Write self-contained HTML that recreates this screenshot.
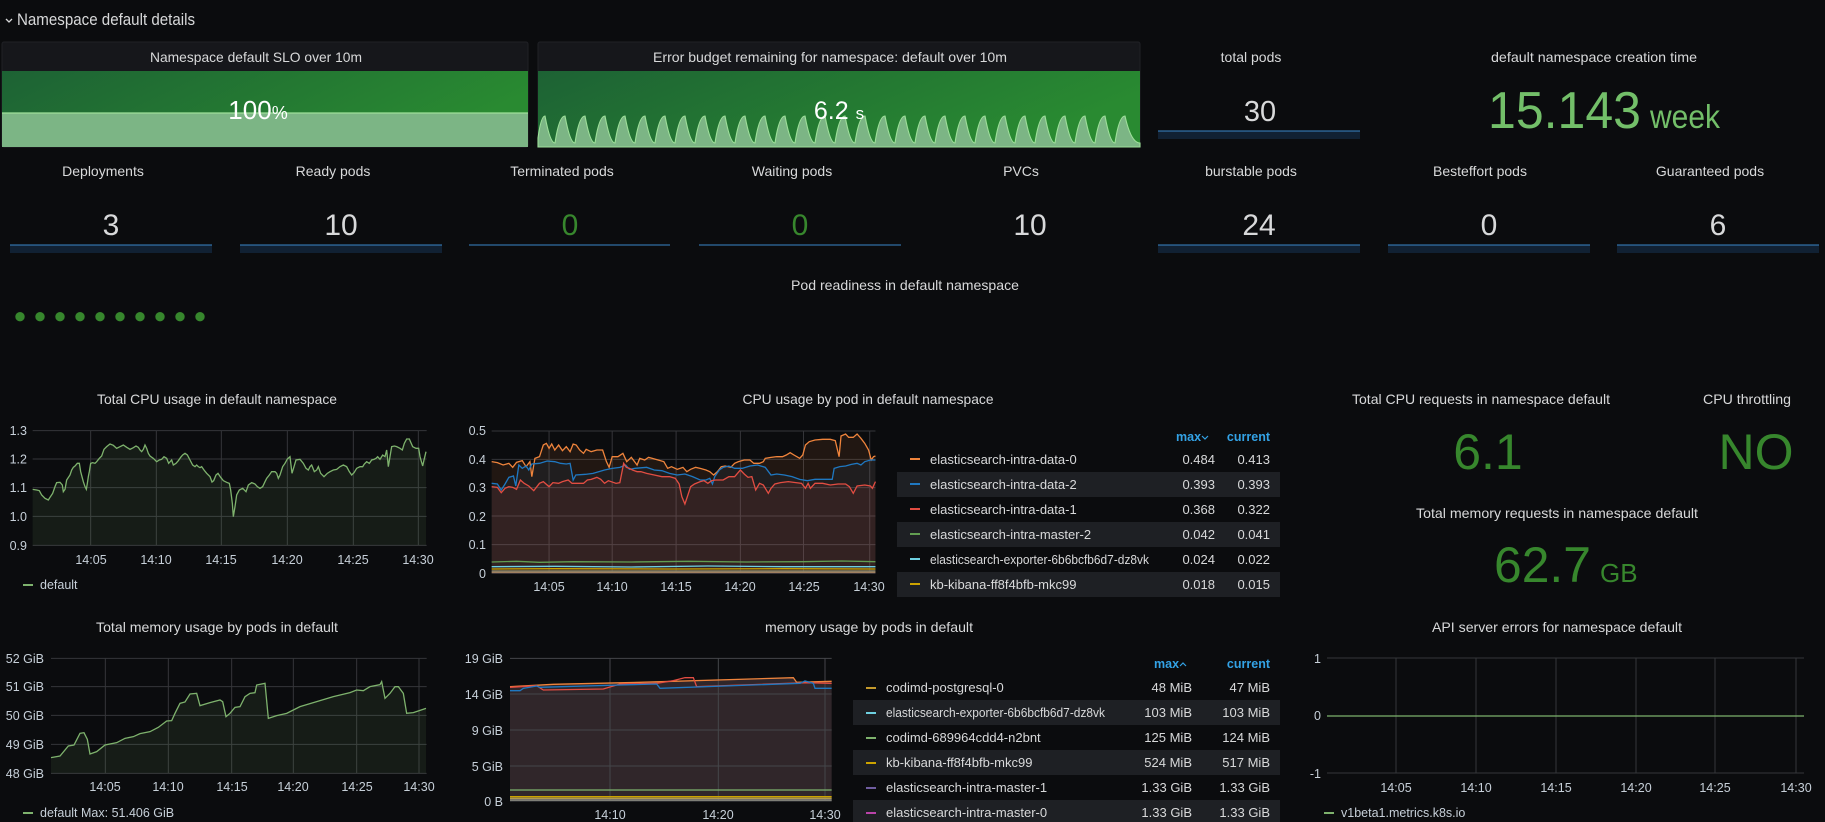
<!DOCTYPE html>
<html><head><meta charset="utf-8"><style>
html,body{margin:0;padding:0;background:#0b0c0e;}
svg{display:block;}
text{font-family:"Liberation Sans",sans-serif;}
</style></head><body>
<svg width="1825" height="822" viewBox="0 0 1825 822" xmlns="http://www.w3.org/2000/svg">
<defs>
<linearGradient id="gg" x1="0" y1="0" x2="1" y2="0.3"><stop offset="0" stop-color="#1d6234"/><stop offset="1" stop-color="#298a31"/></linearGradient>
</defs>
<rect width="1825" height="822" fill="#0b0c0e"/>
<!-- header -->
<polyline points="6,19 9,22 12,19" fill="none" stroke="#d8d9da" stroke-width="1.3"/>
<text x="17" y="25" font-size="16.5" fill="#d8d9da" textLength="178" lengthAdjust="spacingAndGlyphs">Namespace default details</text>

<!-- panel 1 -->
<rect x="2" y="42" width="526" height="105" rx="2" fill="#16171b" stroke="#202226"/>
<text x="256" y="62" font-size="14" fill="#d8d9da" text-anchor="middle" textLength="212" lengthAdjust="spacingAndGlyphs">Namespace default SLO over 10m</text>
<rect x="2" y="71" width="526" height="76" fill="url(#gg)"/>
<rect x="2" y="113" width="526" height="34" fill="#7cb585"/>
<line x1="2" y1="113" x2="528" y2="113" stroke="#9ee09a" stroke-width="1.2"/>
<text x="258" y="119" font-size="26" fill="#fff" text-anchor="middle">100<tspan font-size="18">%</tspan></text>

<!-- panel 2 -->
<rect x="538" y="42" width="602" height="105" rx="2" fill="#16171b" stroke="#202226"/>
<text x="830" y="62" font-size="14" fill="#d8d9da" text-anchor="middle" textLength="354" lengthAdjust="spacingAndGlyphs">Error budget remaining for namespace: default over 10m</text>
<rect x="538" y="71" width="602" height="76" fill="url(#gg)"/>
<path id="saw" fill="#7cb585" stroke="#9ee09a" stroke-width="1.1" d="M538,147 L538,138 Q541,116 545,116 Q550,143 555,143 Q559,116 565,116 Q570,143 575,143 Q579,116 585,116 Q590,143 595,143 Q599,116 605,116 Q610,143 615,143 Q619,116 625,116 Q630,143 635,143 Q639,116 645,116 Q650,143 655,143 Q659,116 665,116 Q670,143 675,143 Q679,116 685,116 Q690,143 695,143 Q699,116 705,116 Q710,143 715,143 Q719,116 725,116 Q730,143 735,143 Q739,116 745,116 Q750,143 755,143 Q759,116 765,116 Q770,143 775,143 Q779,116 785,116 Q790,143 795,143 Q799,116 805,116 Q810,143 815,143 Q819,116 825,116 Q830,143 835,143 Q839,116 845,116 Q850,143 855,143 Q859,116 865,116 Q870,143 875,143 Q879,116 885,116 Q890,143 895,143 Q899,116 905,116 Q910,143 915,143 Q919,116 925,116 Q930,143 935,143 Q939,116 945,116 Q950,143 955,143 Q959,116 965,116 Q970,143 975,143 Q979,116 985,116 Q990,143 995,143 Q999,116 1005,116 Q1010,143 1015,143 Q1019,116 1025,116 Q1030,143 1035,143 Q1039,116 1045,116 Q1050,143 1055,143 Q1059,116 1065,116 Q1070,143 1075,143 Q1079,116 1085,116 Q1090,143 1095,143 Q1099,116 1105,116 Q1110,143 1115,143 Q1119,116 1125,116 Q1131,143 1140,143 L1140,147 Z"/>
<text x="839" y="119" font-size="25" fill="#fff" text-anchor="middle">6.2 <tspan font-size="17">s</tspan></text>

<!-- total pods -->
<text x="1251" y="62" font-size="14" fill="#d8d9da" text-anchor="middle">total pods</text>
<text x="1260" y="121" font-size="29" fill="#d8d9da" text-anchor="middle">30</text>
<rect x="1158" y="131" width="202" height="8" fill="#112133"/><line x1="1158" y1="131" x2="1360" y2="131" stroke="#3a86c8"/>

<!-- creation time -->
<text x="1594" y="62" font-size="14" fill="#d8d9da" text-anchor="middle" textLength="206" lengthAdjust="spacingAndGlyphs">default namespace creation time</text>
<text x="1488" y="128" font-size="52" fill="#73bf69" textLength="153" lengthAdjust="spacingAndGlyphs">15.143</text>
<text x="1650" y="128" font-size="33" fill="#73bf69" textLength="70" lengthAdjust="spacingAndGlyphs">week</text>

<!-- row 2 stats -->
<g font-size="14" fill="#d8d9da" text-anchor="middle">
<text x="103" y="176">Deployments</text>
<text x="333" y="176">Ready pods</text>
<text x="562" y="176">Terminated pods</text>
<text x="792" y="176">Waiting pods</text>
<text x="1021" y="176">PVCs</text>
<text x="1251" y="176">burstable pods</text>
<text x="1480" y="176">Besteffort pods</text>
<text x="1710" y="176">Guaranteed pods</text>
</g>
<g font-size="30" text-anchor="middle" fill="#d8d9da">
<text x="111" y="235">3</text>
<text x="341" y="235">10</text>
<text x="570" y="235" fill="#37872d">0</text>
<text x="800" y="235" fill="#37872d">0</text>
<text x="1030" y="235">10</text>
<text x="1259" y="235">24</text>
<text x="1489" y="235">0</text>
<text x="1718" y="235">6</text>
</g>
<g fill="#112133">
<rect x="10" y="245" width="202" height="8"/><rect x="240" y="245" width="202" height="8"/>
<rect x="1158" y="245" width="202" height="8"/><rect x="1388" y="245" width="202" height="8"/><rect x="1617" y="245" width="202" height="8"/>
</g>
<g stroke="#3a86c8" stroke-width="1">
<line x1="10" y1="245" x2="212" y2="245"/><line x1="240" y1="245" x2="442" y2="245"/>
<line x1="469" y1="245" x2="670" y2="245"/><line x1="699" y1="245" x2="901" y2="245"/>
<line x1="1158" y1="245" x2="1360" y2="245"/><line x1="1388" y1="245" x2="1590" y2="245"/><line x1="1617" y1="245" x2="1819" y2="245"/>
</g>

<!-- pod readiness -->
<text x="905" y="290" font-size="14" fill="#d8d9da" text-anchor="middle" textLength="228" lengthAdjust="spacingAndGlyphs">Pod readiness in default namespace</text>
<g fill="#37872d">
<circle cx="20" cy="316.7" r="4.7"/><circle cx="40" cy="316.7" r="4.7"/><circle cx="60" cy="316.7" r="4.7"/><circle cx="80" cy="316.7" r="4.7"/><circle cx="100" cy="316.7" r="4.7"/><circle cx="120" cy="316.7" r="4.7"/><circle cx="140" cy="316.7" r="4.7"/><circle cx="160" cy="316.7" r="4.7"/><circle cx="180" cy="316.7" r="4.7"/><circle cx="200" cy="316.7" r="4.7"/>
</g>

<!-- Total CPU usage -->
<text x="217" y="404" font-size="14" fill="#d8d9da" text-anchor="middle" textLength="240" lengthAdjust="spacingAndGlyphs">Total CPU usage in default namespace</text>
<g transform="translate(0,290) scale(0.33333)">
<g stroke="#35363a" stroke-width="1" vector-effect="non-scaling-stroke">
<line x1="98" y1="422" x2="1280" y2="422" vector-effect="non-scaling-stroke"/><line x1="98" y1="507" x2="1280" y2="507" vector-effect="non-scaling-stroke"/><line x1="98" y1="593" x2="1280" y2="593" vector-effect="non-scaling-stroke"/><line x1="98" y1="679" x2="1280" y2="679" vector-effect="non-scaling-stroke"/><line x1="98" y1="766" x2="1280" y2="766" vector-effect="non-scaling-stroke"/>
<line x1="272" y1="422" x2="272" y2="766" vector-effect="non-scaling-stroke"/><line x1="469" y1="422" x2="469" y2="766" vector-effect="non-scaling-stroke"/><line x1="664" y1="422" x2="664" y2="766" vector-effect="non-scaling-stroke"/><line x1="862" y1="422" x2="862" y2="766" vector-effect="non-scaling-stroke"/><line x1="1060" y1="422" x2="1060" y2="766" vector-effect="non-scaling-stroke"/><line x1="1255" y1="422" x2="1255" y2="766" vector-effect="non-scaling-stroke"/>
</g>
<polyline id="cpu" fill="rgba(126,178,109,0.1)" stroke="none" points="98,766 98,598 110,600 118,602 125,615 135,625 145,630 150,622 158,610 165,590 170,578 180,577 187,585 190,605 195,598 200,570 210,555 215,540 220,532 225,528 232,520 238,520 242,545 246,560 250,575 255,590 259,598 262,580 265,560 268,545 272,520 278,518 285,520 290,515 298,505 305,498 312,478 320,470 330,462 340,466 350,475 360,470 370,465 380,472 390,478 400,473 408,468 415,472 420,480 425,485 430,478 435,465 440,475 445,490 450,498 460,505 470,515 478,510 485,508 492,500 500,505 506,520 515,510 520,525 528,520 535,512 542,502 548,495 555,490 562,495 570,510 578,525 585,530 590,525 595,530 600,533 605,530 612,540 620,550 630,560 636,576 641,572 648,555 654,550 662,562 670,572 680,577 688,580 692,600 697,640 700,680 705,650 710,615 718,600 728,595 738,605 745,585 755,578 765,582 772,590 780,595 788,590 795,575 800,565 808,555 815,545 825,545 830,550 835,565 840,555 848,530 855,520 862,507 870,500 876,550 882,530 888,510 900,508 910,520 918,535 925,540 930,530 935,525 943,545 950,540 955,530 962,550 972,560 982,550 990,545 1000,540 1010,538 1020,530 1030,525 1040,530 1048,545 1055,555 1062,548 1070,535 1080,530 1088,530 1093,522 1100,515 1108,520 1115,510 1122,508 1128,505 1133,500 1140,508 1148,495 1155,500 1160,480 1165,530 1170,500 1175,470 1183,468 1190,470 1200,475 1207,480 1213,460 1220,447 1228,447 1238,470 1248,475 1256,475 1260,500 1268,528 1272,510 1278,485 1278,766"/>
<polyline fill="none" stroke="#7eb26d" stroke-width="1.3" vector-effect="non-scaling-stroke" points="98,598 110,600 118,602 125,615 135,625 145,630 150,622 158,610 165,590 170,578 180,577 187,585 190,605 195,598 200,570 210,555 215,540 220,532 225,528 232,520 238,520 242,545 246,560 250,575 255,590 259,598 262,580 265,560 268,545 272,520 278,518 285,520 290,515 298,505 305,498 312,478 320,470 330,462 340,466 350,475 360,470 370,465 380,472 390,478 400,473 408,468 415,472 420,480 425,485 430,478 435,465 440,475 445,490 450,498 460,505 470,515 478,510 485,508 492,500 500,505 506,520 515,510 520,525 528,520 535,512 542,502 548,495 555,490 562,495 570,510 578,525 585,530 590,525 595,530 600,533 605,530 612,540 620,550 630,560 636,576 641,572 648,555 654,550 662,562 670,572 680,577 688,580 692,600 697,640 700,680 705,650 710,615 718,600 728,595 738,605 745,585 755,578 765,582 772,590 780,595 788,590 795,575 800,565 808,555 815,545 825,545 830,550 835,565 840,555 848,530 855,520 862,507 870,500 876,550 882,530 888,510 900,508 910,520 918,535 925,540 930,530 935,525 943,545 950,540 955,530 962,550 972,560 982,550 990,545 1000,540 1010,538 1020,530 1030,525 1040,530 1048,545 1055,555 1062,548 1070,535 1080,530 1088,530 1093,522 1100,515 1108,520 1115,510 1122,508 1128,505 1133,500 1140,508 1148,495 1155,500 1160,480 1165,530 1170,500 1175,470 1183,468 1190,470 1200,475 1207,480 1213,460 1220,447 1228,447 1238,470 1248,475 1256,475 1260,500 1268,528 1272,510 1278,485"/>
</g>
<g font-size="12.5" fill="#c7d0d9">
<g text-anchor="end"><text x="27" y="435">1.3</text><text x="27" y="463.5">1.2</text><text x="27" y="492">1.1</text><text x="27" y="521">1.0</text><text x="27" y="550">0.9</text></g>
<g text-anchor="middle"><text x="91" y="564">14:05</text><text x="156" y="564">14:10</text><text x="221" y="564">14:15</text><text x="287" y="564">14:20</text><text x="353" y="564">14:25</text><text x="418" y="564">14:30</text></g>
</g>
<line x1="23" y1="585" x2="33" y2="585" stroke="#7eb26d" stroke-width="2"/>
<text x="40" y="589" font-size="12.5" fill="#c7d0d9">default</text>

<!-- CPU usage by pod -->
<text x="868" y="404" font-size="14" fill="#d8d9da" text-anchor="middle" textLength="251" lengthAdjust="spacingAndGlyphs">CPU usage by pod in default namespace</text>
<g transform="translate(440,380) scale(0.38265,0.33333)">
<g stroke="#35363a">
<line x1="135" y1="153" x2="1138" y2="153" vector-effect="non-scaling-stroke"/><line x1="135" y1="238" x2="1138" y2="238" vector-effect="non-scaling-stroke"/><line x1="135" y1="323" x2="1138" y2="323" vector-effect="non-scaling-stroke"/><line x1="135" y1="408" x2="1138" y2="408" vector-effect="non-scaling-stroke"/><line x1="135" y1="494" x2="1138" y2="494" vector-effect="non-scaling-stroke"/><line x1="135" y1="580" x2="1138" y2="580" vector-effect="non-scaling-stroke"/>
<line x1="285" y1="153" x2="285" y2="580" vector-effect="non-scaling-stroke"/><line x1="450" y1="153" x2="450" y2="580" vector-effect="non-scaling-stroke"/><line x1="617" y1="153" x2="617" y2="580" vector-effect="non-scaling-stroke"/><line x1="785" y1="153" x2="785" y2="580" vector-effect="non-scaling-stroke"/><line x1="950" y1="153" x2="950" y2="580" vector-effect="non-scaling-stroke"/><line x1="1123" y1="153" x2="1123" y2="580" vector-effect="non-scaling-stroke"/>
</g>
<polygon fill="rgba(239,132,60,0.1)" points="135,580 135,245 150,248 165,255 180,250 190,262 200,247 215,242 225,260 235,245 240,290 248,235 260,230 270,195 278,190 285,205 292,192 300,210 310,195 320,212 330,200 340,215 348,192 356,195 365,210 375,220 382,208 395,215 410,210 425,210 435,245 442,262 450,230 465,230 478,220 488,245 500,232 515,255 522,235 535,240 545,232 555,235 570,240 585,245 595,265 605,260 620,268 635,262 645,275 655,268 668,262 680,265 695,270 705,275 715,285 725,275 735,260 745,258 760,262 770,250 780,245 795,240 810,240 820,250 835,250 845,245 850,235 865,232 880,230 895,230 905,225 915,218 925,225 940,235 948,225 955,195 965,185 980,180 1000,178 1020,178 1033,182 1043,230 1048,168 1060,162 1068,172 1080,172 1090,162 1100,175 1110,190 1120,210 1127,240 1133,230 1138,228 1138,580"/>
<polygon fill="rgba(31,120,193,0.08)" points="135,580 135,310 150,312 160,330 170,312 180,292 192,288 198,318 206,255 215,265 225,258 232,270 240,252 260,250 280,243 300,245 315,250 330,252 340,250 348,300 355,285 380,283 400,280 430,270 450,265 470,262 485,255 495,268 510,265 540,262 560,270 580,272 600,280 620,285 640,282 660,290 680,300 695,300 705,295 712,312 718,290 730,270 740,262 755,258 770,265 790,265 810,258 830,255 850,262 865,285 880,282 900,285 920,290 940,298 960,302 980,298 1000,298 1025,298 1030,265 1045,260 1060,258 1075,253 1090,250 1100,255 1110,245 1125,240 1138,240 1138,580"/>
<polygon fill="rgba(226,77,66,0.1)" points="135,580 135,320 150,322 160,338 170,325 180,320 190,322 200,328 210,300 220,310 232,318 245,332 260,310 270,305 285,320 295,308 310,310 320,305 335,300 345,310 360,310 375,310 385,300 395,298 410,292 420,298 430,310 440,302 460,310 470,308 480,250 487,262 495,265 503,270 515,275 525,275 540,280 560,285 580,290 600,290 615,295 625,312 632,350 640,372 647,348 655,320 665,312 680,305 690,302 700,310 710,302 720,300 740,300 755,290 770,290 785,270 795,282 805,292 815,290 825,330 835,310 845,315 858,340 865,325 875,312 890,308 910,305 930,308 945,310 955,325 962,310 968,325 980,310 1000,310 1020,315 1040,312 1060,312 1070,320 1080,340 1090,318 1110,315 1125,318 1130,325 1138,305 1138,580"/>
<g fill="none" stroke-width="1.3">
<polyline stroke="#ef843c" vector-effect="non-scaling-stroke" points="135,245 150,248 165,255 180,250 190,262 200,247 215,242 225,260 235,245 240,290 248,235 260,230 270,195 278,190 285,205 292,192 300,210 310,195 320,212 330,200 340,215 348,192 356,195 365,210 375,220 382,208 395,215 410,210 425,210 435,245 442,262 450,230 465,230 478,220 488,245 500,232 515,255 522,235 535,240 545,232 555,235 570,240 585,245 595,265 605,260 620,268 635,262 645,275 655,268 668,262 680,265 695,270 705,275 715,285 725,275 735,260 745,258 760,262 770,250 780,245 795,240 810,240 820,250 835,250 845,245 850,235 865,232 880,230 895,230 905,225 915,218 925,225 940,235 948,225 955,195 965,185 980,180 1000,178 1020,178 1033,182 1043,230 1048,168 1060,162 1068,172 1080,172 1090,162 1100,175 1110,190 1120,210 1127,240 1133,230 1138,228"/>
<polyline stroke="#1f78c1" vector-effect="non-scaling-stroke" points="135,310 150,312 160,330 170,312 180,292 192,288 198,318 206,255 215,265 225,258 232,270 240,252 260,250 280,243 300,245 315,250 330,252 340,250 348,300 355,285 380,283 400,280 430,270 450,265 470,262 485,255 495,268 510,265 540,262 560,270 580,272 600,280 620,285 640,282 660,290 680,300 695,300 705,295 712,312 718,290 730,270 740,262 755,258 770,265 790,265 810,258 830,255 850,262 865,285 880,282 900,285 920,290 940,298 960,302 980,298 1000,298 1025,298 1030,265 1045,260 1060,258 1075,253 1090,250 1100,255 1110,245 1125,240 1138,240"/>
<polyline stroke="#e24d42" vector-effect="non-scaling-stroke" points="135,320 150,322 160,338 170,325 180,320 190,322 200,328 210,300 220,310 232,318 245,332 260,310 270,305 285,320 295,308 310,310 320,305 335,300 345,310 360,310 375,310 385,300 395,298 410,292 420,298 430,310 440,302 460,310 470,308 480,250 487,262 495,265 503,270 515,275 525,275 540,280 560,285 580,290 600,290 615,295 625,312 632,350 640,372 647,348 655,320 665,312 680,305 690,302 700,310 710,302 720,300 740,300 755,290 770,290 785,270 795,282 805,292 815,290 825,330 835,310 845,315 858,340 865,325 875,312 890,308 910,305 930,308 945,310 955,325 962,310 968,325 980,310 1000,310 1020,315 1040,312 1060,312 1070,320 1080,340 1090,318 1110,315 1125,318 1130,325 1138,305"/>
<polyline stroke="#629e51" vector-effect="non-scaling-stroke" points="135,546 200,544 260,547 350,545 500,546 650,544 800,546 950,545 1050,543 1138,545"/>
<polyline stroke="#6ed0e0" vector-effect="non-scaling-stroke" points="135,560 300,559 500,561 700,558 900,560 1138,560"/>
<polyline stroke="#cca300" vector-effect="non-scaling-stroke" points="135,567 300,566 600,567 900,566 1138,567"/>
<polyline stroke="#8e8e6e" vector-effect="non-scaling-stroke" points="135,573 1138,573"/>
<polyline stroke="#a08060" vector-effect="non-scaling-stroke" points="135,577 1138,577"/>
</g>
</g>
<g font-size="12.5" fill="#c7d0d9">
<g text-anchor="end"><text x="486" y="435">0.5</text><text x="486" y="464">0.4</text><text x="486" y="492">0.3</text><text x="486" y="521">0.2</text><text x="486" y="549">0.1</text><text x="486" y="578">0</text></g>
<g text-anchor="middle"><text x="549" y="591">14:05</text><text x="612" y="591">14:10</text><text x="676" y="591">14:15</text><text x="740" y="591">14:20</text><text x="804" y="591">14:25</text><text x="869" y="591">14:30</text></g>
</g>
<!-- CPU table -->
<g fill="#1e2024"><rect x="897" y="472" width="383" height="25"/><rect x="897" y="522" width="383" height="25"/><rect x="897" y="572" width="383" height="25"/></g>
<g font-size="12.5" font-weight="bold" fill="#33a2e5"><text x="1176" y="441">max</text><text x="1270" y="441" text-anchor="end">current</text></g>
<polyline points="1202,436 1205,439 1208,436" fill="none" stroke="#33a2e5" stroke-width="1.2"/>
<g stroke-width="2">
<line x1="910" y1="459" x2="920" y2="459" stroke="#ef843c"/><line x1="910" y1="484" x2="920" y2="484" stroke="#1f78c1"/><line x1="910" y1="509" x2="920" y2="509" stroke="#e24d42"/><line x1="910" y1="534" x2="920" y2="534" stroke="#629e51"/><line x1="910" y1="559" x2="920" y2="559" stroke="#6ed0e0"/><line x1="910" y1="584" x2="920" y2="584" stroke="#cca300"/>
</g>
<g font-size="13" fill="#d8d9da">
<text x="930" y="464">elasticsearch-intra-data-0</text><text x="930" y="489">elasticsearch-intra-data-2</text><text x="930" y="514">elasticsearch-intra-data-1</text><text x="930" y="539">elasticsearch-intra-master-2</text><text x="930" y="564" textLength="219" lengthAdjust="spacingAndGlyphs">elasticsearch-exporter-6b6bcfb6d7-dz8vk</text><text x="930" y="589">kb-kibana-ff8f4bfb-mkc99</text>
<g text-anchor="end">
<text x="1215" y="464">0.484</text><text x="1215" y="489">0.393</text><text x="1215" y="514">0.368</text><text x="1215" y="539">0.042</text><text x="1215" y="564">0.024</text><text x="1215" y="589">0.018</text>
<text x="1270" y="464">0.413</text><text x="1270" y="489">0.393</text><text x="1270" y="514">0.322</text><text x="1270" y="539">0.041</text><text x="1270" y="564">0.022</text><text x="1270" y="589">0.015</text>
</g></g>

<!-- right stats -->
<g font-size="14" fill="#d8d9da" text-anchor="middle">
<text x="1481" y="404" textLength="258" lengthAdjust="spacingAndGlyphs">Total CPU requests in namespace default</text>
<text x="1747" y="404" textLength="88" lengthAdjust="spacingAndGlyphs">CPU throttling</text>
<text x="1557" y="518" textLength="282" lengthAdjust="spacingAndGlyphs">Total memory requests in namespace default</text>
<text x="1557" y="632" textLength="250" lengthAdjust="spacingAndGlyphs">API server errors for namespace default</text>
</g>
<g fill="#37872d" text-anchor="middle">
<text x="1488" y="469" font-size="50">6.1</text>
<text x="1756" y="469" font-size="50">NO</text>
</g>
<text x="1494" y="582" font-size="50" fill="#37872d" textLength="97" lengthAdjust="spacingAndGlyphs">62.7</text>
<text x="1600" y="582" font-size="26" fill="#37872d">GB</text>

<!-- Total memory usage -->
<text x="217" y="632" font-size="14" fill="#d8d9da" text-anchor="middle" textLength="242" lengthAdjust="spacingAndGlyphs">Total memory usage by pods in default</text>
<g transform="translate(0,550) scale(0.33333)">
<g stroke="#35363a">
<line x1="153" y1="325" x2="1280" y2="325" vector-effect="non-scaling-stroke"/><line x1="153" y1="410" x2="1280" y2="410" vector-effect="non-scaling-stroke"/><line x1="153" y1="496" x2="1280" y2="496" vector-effect="non-scaling-stroke"/><line x1="153" y1="583" x2="1280" y2="583" vector-effect="non-scaling-stroke"/><line x1="153" y1="670" x2="1280" y2="670" vector-effect="non-scaling-stroke"/>
<line x1="316" y1="325" x2="316" y2="670" vector-effect="non-scaling-stroke"/><line x1="505" y1="325" x2="505" y2="670" vector-effect="non-scaling-stroke"/><line x1="695" y1="325" x2="695" y2="670" vector-effect="non-scaling-stroke"/><line x1="880" y1="325" x2="880" y2="670" vector-effect="non-scaling-stroke"/><line x1="1070" y1="325" x2="1070" y2="670" vector-effect="non-scaling-stroke"/><line x1="1257" y1="325" x2="1257" y2="670" vector-effect="non-scaling-stroke"/>
</g>
<polygon fill="rgba(126,178,109,0.1)" points="153,670 153,623 180,618 205,588 222,585 240,550 252,548 262,568 270,612 290,605 315,585 350,578 375,565 400,560 420,551 450,545 475,532 500,513 515,512 525,490 540,460 555,456 570,432 590,430 600,467 630,458 660,450 668,455 678,500 690,490 705,472 720,470 735,440 750,430 765,428 770,405 795,400 805,505 830,497 860,490 900,470 950,455 1000,440 1050,428 1070,420 1090,422 1110,410 1140,404 1145,395 1155,445 1170,430 1185,410 1195,410 1210,430 1220,490 1240,488 1278,475 1278,670"/>
<polyline fill="none" stroke="#7eb26d" stroke-width="1.3" vector-effect="non-scaling-stroke" points="153,623 180,618 205,588 222,585 240,550 252,548 262,568 270,612 290,605 315,585 350,578 375,565 400,560 420,551 450,545 475,532 500,513 515,512 525,490 540,460 555,456 570,432 590,430 600,467 630,458 660,450 668,455 678,500 690,490 705,472 720,470 735,440 750,430 765,428 770,405 795,400 805,505 830,497 860,490 900,470 950,455 1000,440 1050,428 1070,420 1090,422 1110,410 1140,404 1145,395 1155,445 1170,430 1185,410 1195,410 1210,430 1220,490 1240,488 1278,475"/>
</g>
<g font-size="12.5" fill="#c7d0d9">
<g text-anchor="end"><text x="44" y="663">52 GiB</text><text x="44" y="691">51 GiB</text><text x="44" y="720">50 GiB</text><text x="44" y="749">49 GiB</text><text x="44" y="778">48 GiB</text></g>
<g text-anchor="middle"><text x="105" y="791">14:05</text><text x="168" y="791">14:10</text><text x="232" y="791">14:15</text><text x="293" y="791">14:20</text><text x="357" y="791">14:25</text><text x="419" y="791">14:30</text></g>
</g>
<line x1="23" y1="813" x2="33" y2="813" stroke="#7eb26d" stroke-width="2"/>
<text x="40" y="817" font-size="12.5" fill="#c7d0d9">default  Max: 51.406 GiB</text>

<!-- memory usage by pods -->
<text x="869" y="632" font-size="14" fill="#d8d9da" text-anchor="middle" textLength="208" lengthAdjust="spacingAndGlyphs">memory usage by pods in default</text>
<g transform="translate(440,630) scale(0.33333)">
<polygon fill="#30262a" points="210,513 210,170 340,163 600,157 1060,143 1070,157 1175,154 1175,513"/>
<g stroke="#45464a">
<line x1="210" y1="85" x2="1175" y2="85" vector-effect="non-scaling-stroke"/><line x1="210" y1="192" x2="1175" y2="192" vector-effect="non-scaling-stroke"/><line x1="210" y1="300" x2="1175" y2="300" vector-effect="non-scaling-stroke"/><line x1="210" y1="408" x2="1175" y2="408" vector-effect="non-scaling-stroke"/><line x1="210" y1="513" x2="1175" y2="513" vector-effect="non-scaling-stroke"/>
<line x1="510" y1="85" x2="510" y2="513" vector-effect="non-scaling-stroke"/><line x1="835" y1="85" x2="835" y2="513" vector-effect="non-scaling-stroke"/><line x1="1155" y1="85" x2="1155" y2="513" vector-effect="non-scaling-stroke"/>
</g>
<g fill="none" stroke-width="1.3">
<polyline stroke="#ef843c" vector-effect="non-scaling-stroke" points="210,170 340,163 600,157 1060,143 1070,157 1175,154"/>
<polyline stroke="#e24d42" vector-effect="non-scaling-stroke" points="210,172 290,167 310,180 490,177 540,162 650,160 700,152 735,143 760,143 770,170 1100,158 1175,160"/>
<polyline stroke="#1f78c1" vector-effect="non-scaling-stroke" points="210,182 240,182 250,175 290,168 300,172 540,165 650,162 660,175 1080,160 1095,153 1120,160 1125,175 1175,175"/>
<polyline stroke="#7eb26d" vector-effect="non-scaling-stroke" points="210,480 1175,480"/>
<polyline stroke="#cca300" vector-effect="non-scaling-stroke" points="210,500 1175,500"/>
<polyline stroke="#b09a50" vector-effect="non-scaling-stroke" points="210,505 1175,505"/>
<polyline stroke="#a0a090" vector-effect="non-scaling-stroke" points="210,510 1175,510"/>
</g>
</g>
<g font-size="12.5" fill="#c7d0d9">
<g text-anchor="end"><text x="503" y="663">19 GiB</text><text x="503" y="699">14 GiB</text><text x="503" y="735">9 GiB</text><text x="503" y="771">5 GiB</text><text x="503" y="806">0 B</text></g>
<g text-anchor="middle"><text x="610" y="819">14:10</text><text x="718" y="819">14:20</text><text x="825" y="819">14:30</text></g>
</g>
<!-- memory table -->
<g fill="#1e2024"><rect x="853" y="700" width="427" height="25"/><rect x="853" y="750" width="427" height="25"/><rect x="853" y="800" width="427" height="25"/></g>
<g font-size="12.5" font-weight="bold" fill="#33a2e5"><text x="1154" y="668">max</text><text x="1270" y="668" text-anchor="end">current</text></g>
<polyline points="1180,666 1183,663 1186,666" fill="none" stroke="#33a2e5" stroke-width="1.2"/>
<g stroke-width="2">
<line x1="866" y1="688" x2="876" y2="688" stroke="#c49a2c"/><line x1="866" y1="713" x2="876" y2="713" stroke="#6ed0e0"/><line x1="866" y1="738" x2="876" y2="738" stroke="#7eb26d"/><line x1="866" y1="763" x2="876" y2="763" stroke="#cca300"/><line x1="866" y1="788" x2="876" y2="788" stroke="#705da0"/><line x1="866" y1="813" x2="876" y2="813" stroke="#ba43a9"/>
</g>
<g font-size="13" fill="#d8d9da">
<text x="886" y="692">codimd-postgresql-0</text><text x="886" y="717" textLength="219" lengthAdjust="spacingAndGlyphs">elasticsearch-exporter-6b6bcfb6d7-dz8vk</text><text x="886" y="742">codimd-689964cdd4-n2bnt</text><text x="886" y="767">kb-kibana-ff8f4bfb-mkc99</text><text x="886" y="792">elasticsearch-intra-master-1</text><text x="886" y="817">elasticsearch-intra-master-0</text>
<g text-anchor="end">
<text x="1192" y="692">48 MiB</text><text x="1192" y="717">103 MiB</text><text x="1192" y="742">125 MiB</text><text x="1192" y="767">524 MiB</text><text x="1192" y="792">1.33 GiB</text><text x="1192" y="817">1.33 GiB</text>
<text x="1270" y="692">47 MiB</text><text x="1270" y="717">103 MiB</text><text x="1270" y="742">124 MiB</text><text x="1270" y="767">517 MiB</text><text x="1270" y="792">1.33 GiB</text><text x="1270" y="817">1.33 GiB</text>
</g></g>

<!-- API server errors -->
<g stroke="#35363a">
<line x1="1327" y1="658" x2="1804" y2="658"/><line x1="1327" y1="773" x2="1804" y2="773"/>
<line x1="1396" y1="658" x2="1396" y2="773"/><line x1="1476" y1="658" x2="1476" y2="773"/><line x1="1556" y1="658" x2="1556" y2="773"/><line x1="1636" y1="658" x2="1636" y2="773"/><line x1="1715" y1="658" x2="1715" y2="773"/><line x1="1796" y1="658" x2="1796" y2="773"/>
</g>
<line x1="1327" y1="716" x2="1804" y2="716" stroke="#7eb26d" stroke-width="1.2"/>
<g font-size="12.5" fill="#c7d0d9">
<g text-anchor="end"><text x="1321" y="663">1</text><text x="1321" y="720">0</text><text x="1321" y="778">-1</text></g>
<g text-anchor="middle"><text x="1396" y="792">14:05</text><text x="1476" y="792">14:10</text><text x="1556" y="792">14:15</text><text x="1636" y="792">14:20</text><text x="1715" y="792">14:25</text><text x="1796" y="792">14:30</text></g>
<text x="1341" y="817">v1beta1.metrics.k8s.io</text>
</g>
<line x1="1324" y1="813" x2="1334" y2="813" stroke="#7eb26d" stroke-width="2"/>
</svg>
</body></html>
